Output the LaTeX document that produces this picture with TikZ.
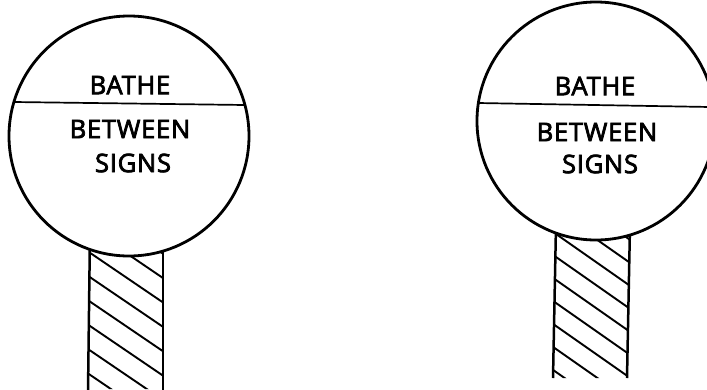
\documentclass[tikz,border=0pt]{standalone}
\usepackage{fontspec}
\setmainfont{Open Sans}
\newfontfamily\signfont{Open Sans}[FakeBold=3,LetterSpace=3]
\begin{document}
\begin{tikzpicture}[x=1pt,y=-1pt,
  disc/.style={draw=black,fill=white,line width=2.8pt},
  chord/.style={draw=black,line width=1.7pt},
  edge/.style={draw=black,line width=2.5pt},
  hatch/.style={draw=black,line width=1.9pt},
  lbl/.style={font=\signfont\fontsize{25.5}{30}\selectfont,inner sep=0pt,anchor=center}]
\useasboundingbox (0,0) rectangle (707,389);
\clip (0,0) rectangle (707,389);
% ---------- left sign ----------
\begin{scope}
  \clip (90,225) -- (163,225) -- (163,389) -- (88,389) -- cycle;
  \foreach \c in {204,228.4,252.8,277.2,301.6,326,350.4,374.8,399.2}
    \draw[hatch] (80,\c-6.8) -- (180,\c+61.2);
\end{scope}
\draw[edge] (90,230) -- (88,392);
\draw[edge] (163,230) -- (163,392);
\draw[disc] (129,136) circle[radius=120];
\draw[chord] (14,102) -- (245,105);
\node[lbl] (lbathe) at (130,85) {BATHE};
\node[lbl] (lbetween) at (130,129) {BETWEEN};
\node[lbl] (lsigns) at (133,163) {SIGNS};
% ---------- right sign ----------
\begin{scope}
  \clip (556,220) -- (630,220) -- (627,378) -- (553,378) -- cycle;
  \foreach \c in {188,211,234,257,280,303,326,349,372,395}
    \draw[hatch] (545,\c-7.7) -- (640,\c+58.8);
\end{scope}
\draw[edge] (556,225) -- (553,378);
\draw[edge] (630,225) -- (627,378);
\draw[disc] (596,121) circle[radius=119];
\draw[chord] (478,103) -- (710,107);
\node[lbl] (rbathe) at (595,86) {BATHE};
\node[lbl] (rbetween) at (597,132) {BETWEEN};
\node[lbl] (rsigns) at (600,164) {SIGNS};
\end{tikzpicture}
\end{document}
